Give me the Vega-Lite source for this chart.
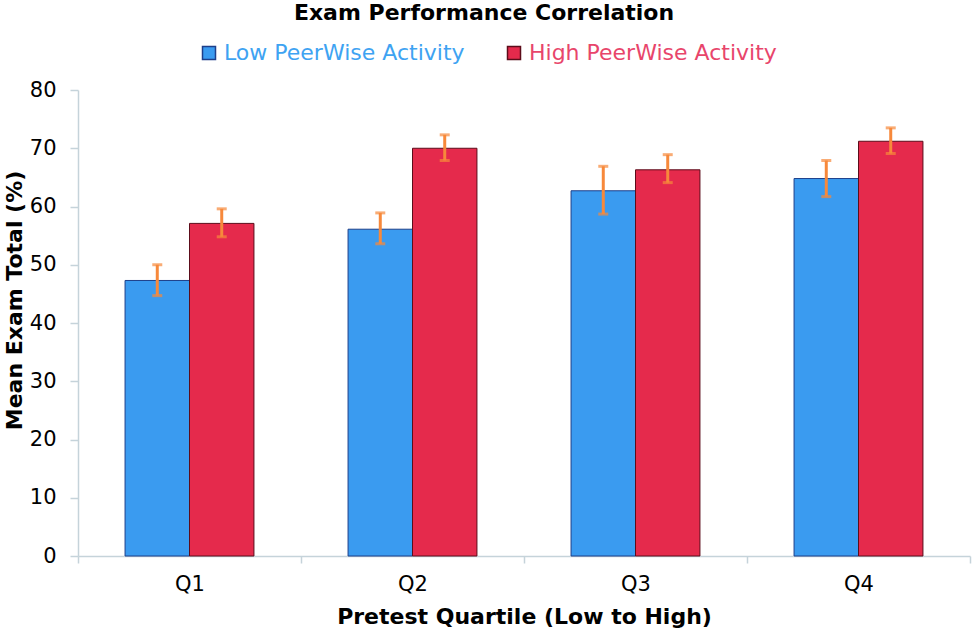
{
  "$schema": "https://vega.github.io/schema/vega-lite/v6.json",
  "autosize": "none",
  "padding": {"left": 78, "top": 90, "right": 7, "bottom": 77},
  "width": 892,
  "height": 466,
  "background": "white",
  "title": {
    "text": "Exam Performance Correlation",
    "font": "DejaVu Sans",
    "fontSize": 22,
    "fontWeight": "bold",
    "color": "black",
    "anchor": "middle",
    "frame": "group",
    "dx": -40,
    "offset": 17
  },
  "data": {
    "values": [
      {"quartile": "Q1", "group": "Low PeerWise Activity", "mean": 47.3, "lo": 44.7, "hi": 50.0},
      {"quartile": "Q1", "group": "High PeerWise Activity", "mean": 57.1, "lo": 54.8, "hi": 59.6},
      {"quartile": "Q2", "group": "Low PeerWise Activity", "mean": 56.1, "lo": 53.6, "hi": 58.9},
      {"quartile": "Q2", "group": "High PeerWise Activity", "mean": 70.0, "lo": 67.9, "hi": 72.3},
      {"quartile": "Q3", "group": "Low PeerWise Activity", "mean": 62.7, "lo": 58.7, "hi": 66.9},
      {"quartile": "Q3", "group": "High PeerWise Activity", "mean": 66.3, "lo": 64.1, "hi": 68.9},
      {"quartile": "Q4", "group": "Low PeerWise Activity", "mean": 64.8, "lo": 61.7, "hi": 67.9},
      {"quartile": "Q4", "group": "High PeerWise Activity", "mean": 71.2, "lo": 69.1, "hi": 73.5}
    ]
  },
  "encoding": {
    "x": {
      "field": "quartile",
      "type": "nominal",
      "scale": {"paddingInner": 0, "paddingOuter": 0},
      "axis": {
        "title": "Pretest Quartile (Low to High)",
        "labelAngle": 0,
        "tickBand": "extent",
        "tickSize": 7,
        "labelPadding": 10,
        "titlePadding": 12
      }
    },
    "xOffset": {
      "field": "group",
      "type": "nominal",
      "sort": ["Low PeerWise Activity", "High PeerWise Activity"],
      "scale": {"paddingInner": 0, "paddingOuter": 0.73}
    }
  },
  "layer": [
    {
      "mark": {"type": "bar", "strokeWidth": 1},
      "encoding": {
        "y": {
          "field": "mean",
          "type": "quantitative",
          "scale": {"domain": [0, 80]},
          "axis": {
            "title": "Mean Exam Total (%)",
            "values": [0, 10, 20, 30, 40, 50, 60, 70, 80],
            "tickSize": 8,
            "labelPadding": 14,
            "titlePadding": 3,
            "titleY": 210
          }
        },
        "color": {
          "field": "group",
          "type": "nominal",
          "sort": ["Low PeerWise Activity", "High PeerWise Activity"],
          "scale": {"range": ["#3a9bf0", "#e52a4c"]},
          "legend": {
            "title": null,
            "orient": "none",
            "direction": "horizontal",
            "legendX": 120,
            "legendY": -48,
            "symbolType": "square",
            "symbolSize": 169,
            "symbolStrokeWidth": 1.5,
            "symbolStrokeColor": {"expr": "datum.value === 'Low PeerWise Activity' ? '#1d3f8a' : '#5c0c1a'"},
            "labelFont": "DejaVu Sans",
            "labelFontSize": 22,
            "labelLimit": 400,
            "labelOffset": 4,
            "columnPadding": 38,
            "labelColor": {"expr": "datum.value === 'Low PeerWise Activity' ? '#3ea3f2' : '#e8456b'"}
          }
        },
        "stroke": {
          "field": "group",
          "type": "nominal",
          "sort": ["Low PeerWise Activity", "High PeerWise Activity"],
          "scale": {"range": ["#1d3f8a", "#5c0c1a"]},
          "legend": null
        }
      }
    },
    {
      "mark": {"type": "rule", "color": "#f7893b", "strokeWidth": 3},
      "encoding": {
        "y": {"field": "lo", "type": "quantitative"},
        "y2": {"field": "hi"}
      }
    },
    {
      "mark": {"type": "tick", "color": "#f7893b", "thickness": 3, "size": 10, "orient": "horizontal"},
      "encoding": {"y": {"field": "lo", "type": "quantitative"}}
    },
    {
      "mark": {"type": "tick", "color": "#f7893b", "thickness": 3, "size": 10, "orient": "horizontal"},
      "encoding": {"y": {"field": "hi", "type": "quantitative"}}
    }
  ],
  "config": {
    "view": {"stroke": null},
    "axis": {
      "labelFont": "DejaVu Sans",
      "labelFontSize": 21,
      "labelColor": "black",
      "titleFont": "DejaVu Sans",
      "titleFontSize": 22,
      "titleFontWeight": "bold",
      "titleColor": "black",
      "domainColor": "#c5d3da",
      "tickColor": "#c5d3da",
      "domainWidth": 1.5,
      "tickWidth": 1.5,
      "grid": false
    }
  }
}
